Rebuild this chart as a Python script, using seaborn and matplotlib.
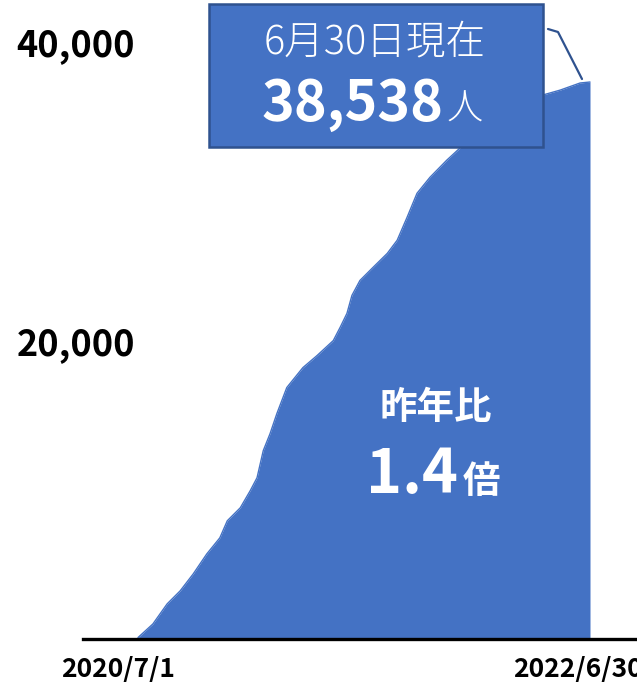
import matplotlib
matplotlib.use("Agg")
import matplotlib.pyplot as plt
import matplotlib.transforms as mtransforms
from matplotlib.patches import Rectangle
from matplotlib.lines import Line2D
import seaborn as sns
import pandas as pd

# ---- data ----
dates = ["2020-07-01", "2020-07-25", "2020-08-17", "2020-09-07", "2020-09-28",
         "2020-10-20", "2020-11-10", "2020-11-22", "2020-12-13", "2020-12-29",
         "2021-01-09", "2021-01-19", "2021-01-30", "2021-02-10", "2021-02-26",
         "2021-03-24", "2021-04-16", "2021-05-12", "2021-05-23", "2021-06-03",
         "2021-06-11", "2021-06-24", "2021-07-15", "2021-08-07", "2021-08-23",
         "2021-09-08", "2021-09-24", "2021-10-15", "2021-11-11", "2021-12-02",
         "2022-01-04", "2022-02-05", "2022-03-09", "2022-04-15", "2022-05-13",
         "2022-06-14", "2022-06-30"]
values = [100, 1040, 2430, 3330, 4500,
          5890, 7000, 8180, 9080, 10260,
          11160, 13030, 14210, 15600, 17400,
          18780, 19620, 20650, 21560, 22530,
          23770, 24810, 25710, 26680, 27590,
          29180, 30840, 31950, 33130, 33960,
          35210, 36110, 36800, 37640, 37980,
          38470, 38538]
ytick_values = [20000, 40000]
ytick_labels = ["20,000", "40,000"]
xtick_dates = ["2020-07-01", "2022-06-30"]
xtick_labels = ["2020/7/1", "2022/6/30"]
box_line1 = "6月30日現在"
box_number = "38,538"
box_unit = "人"
ratio_title = "昨年比"
ratio_value = "1.4"
ratio_unit = "倍"

df = pd.DataFrame({"date": pd.to_datetime(dates), "value": values})

sns.set_style("white")
plt.rcParams["font.family"] = ["Noto Sans CJK JP", "DejaVu Sans"]

BLUE = "#4472C4"
DARK = "#2F528F"
W, H = 637, 686
fig = plt.figure(figsize=(W / 100, H / 100), dpi=100)
ax = fig.add_axes([83 / W, 47 / H, 554 / W, 639 / H])

ax.fill_between(df["date"], df["value"], 0, color=BLUE, linewidth=0)
sns.lineplot(data=df, x="date", y="value", ax=ax, color=BLUE, linewidth=1)

start = pd.Timestamp("2020-07-01")
end = pd.Timestamp("2022-06-30")
ax.set_xlim(start - pd.Timedelta(days=88.7), end + pd.Timedelta(days=75.8))
ax.set_ylim(0, 44212)

for s in ["left", "right", "top"]:
    ax.spines[s].set_visible(False)
ax.spines["bottom"].set_color("black")
ax.spines["bottom"].set_linewidth(2.4)

ax.set_yticks(ytick_values)
ax.set_yticklabels(ytick_labels, fontsize=26, fontweight="bold", color="black")
ax.tick_params(axis="y", length=0, pad=-37.4)
ax.set_xticks(pd.to_datetime(xtick_dates))
ax.set_xticklabels(xtick_labels, fontsize=19, fontweight="bold", color="black")
ax.tick_params(axis="x", length=0, pad=12)
ax.set_xlabel("")
ax.set_ylabel("")
ax.grid(False)

# nudge tick labels to match the reference layout
for lab, dy in zip(ax.get_yticklabels(), [9, 19]):
    lab.set_transform(lab.get_transform() + mtransforms.ScaledTranslation(0, dy / 100, fig.dpi_scale_trans))
for lab, dx in zip(ax.get_xticklabels(), [-20, -12]):
    lab.set_transform(lab.get_transform() + mtransforms.ScaledTranslation(dx / 100, 0, fig.dpi_scale_trans))

# callout box
fig.patches.append(Rectangle((209 / W, 1 - 147 / H), (543 - 209) / W, (147 - 4) / H,
                             transform=fig.transFigure, facecolor=BLUE, edgecolor=DARK,
                             linewidth=1.8, zorder=5))
fig.lines.append(Line2D([548 / W, 558 / W, 582 / W], [1 - 29 / H, 1 - 32 / H, 1 - 79 / H],
                        transform=fig.transFigure, color=DARK, linewidth=1.6, zorder=5))
fig.text(375 / W, 1 - 42 / H, box_line1, ha="center", va="center", fontsize=28.5,
         color="white", fontweight="light", zorder=6)
fig.text(443 / W, 1 - 120 / H, box_number, ha="right", va="baseline", fontsize=40,
         color="white", fontweight="bold", zorder=6)
fig.text(446 / W, 1 - 120 / H, box_unit, ha="left", va="baseline", fontsize=26,
         color="white", fontweight="light", zorder=6)

# ratio text inside area
fig.text(436 / W, 1 - 407 / H, ratio_title, ha="center", va="center", fontsize=27,
         color="white", fontweight="bold", zorder=6)
fig.text(458 / W, 1 - 493 / H, ratio_value, ha="right", va="baseline", fontsize=44,
         color="white", fontweight="bold", zorder=6)
fig.text(463 / W, 1 - 493 / H, ratio_unit, ha="left", va="baseline", fontsize=27,
         color="white", fontweight="bold", zorder=6)

fig.savefig("out.png", dpi=100)
